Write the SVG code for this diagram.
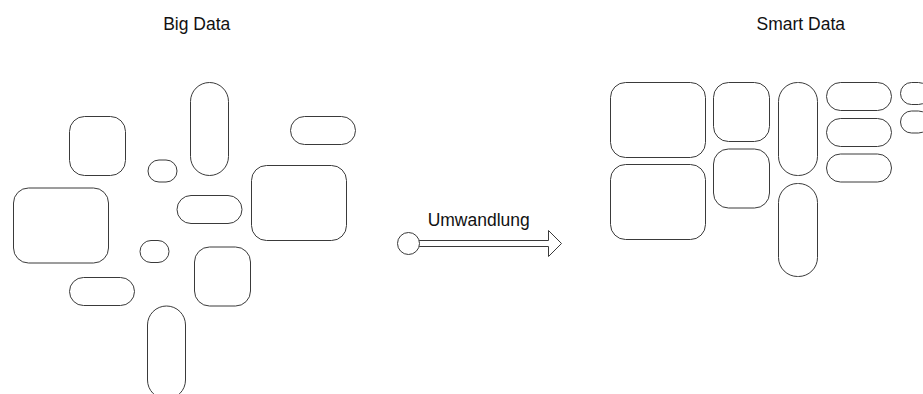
<svg xmlns="http://www.w3.org/2000/svg" width="923" height="394" viewBox="0 0 923 394">
  <style>
    .shape { fill: #ffffff; stroke: #3a3a3a; stroke-width: 1; }
    .label { font-family: "Liberation Sans", Arial, sans-serif; font-size: 17.5px; fill: #111111; text-anchor: middle; }
  </style>
  <rect width="923" height="394" fill="#ffffff"/>

  <!-- headings -->
  <g id="title-big-data"><text class="label" x="196.7" y="30">Big Data</text></g>
  <g id="title-smart-data"><text class="label" x="800.8" y="30">Smart Data</text></g>

  <!-- unordered blocks -->
  <g id="big-1"><rect class="shape" x="69.5" y="116.5" width="56" height="59" rx="15"/></g>
  <g id="big-2"><rect class="shape" x="190.5" y="82.5" width="38" height="93" rx="19"/></g>
  <g id="big-3"><rect class="shape" x="290.5" y="116.5" width="65" height="28" rx="14"/></g>
  <g id="big-4"><rect class="shape" x="148" y="160" width="29" height="22" rx="11"/></g>
  <g id="big-5"><rect class="shape" x="13.5" y="188" width="95" height="75" rx="15"/></g>
  <g id="big-6"><rect class="shape" x="177" y="195.5" width="65" height="28" rx="14"/></g>
  <g id="big-7"><rect class="shape" x="251.5" y="165.5" width="95" height="75" rx="15"/></g>
  <g id="big-8"><rect class="shape" x="140" y="240.5" width="29" height="22" rx="11"/></g>
  <g id="big-9"><rect class="shape" x="194.5" y="247" width="56" height="59" rx="15"/></g>
  <g id="big-10"><rect class="shape" x="69.5" y="277.5" width="65" height="28" rx="14"/></g>
  <g id="big-11"><rect class="shape" x="147.5" y="306" width="38" height="93" rx="19"/></g>

  <!-- ordered blocks -->
  <g id="smart-1"><rect class="shape" x="610.5" y="82.5" width="95" height="75" rx="15"/></g>
  <g id="smart-2"><rect class="shape" x="610.5" y="164.5" width="95" height="75" rx="15"/></g>
  <g id="smart-3"><rect class="shape" x="713.5" y="82.5" width="56" height="59" rx="15"/></g>
  <g id="smart-4"><rect class="shape" x="713.5" y="149" width="56" height="59" rx="15"/></g>
  <g id="smart-5"><rect class="shape" x="778.5" y="82.5" width="39" height="93" rx="19"/></g>
  <g id="smart-6"><rect class="shape" x="778.5" y="183.5" width="39" height="93" rx="19"/></g>
  <g id="smart-7"><rect class="shape" x="826.5" y="82.5" width="65" height="28" rx="14"/></g>
  <g id="smart-8"><rect class="shape" x="826.5" y="118.5" width="65" height="28" rx="14"/></g>
  <g id="smart-9"><rect class="shape" x="826.5" y="154" width="65" height="28" rx="14"/></g>
  <g id="smart-10"><rect class="shape" x="900.5" y="82.5" width="29" height="22" rx="11"/></g>
  <g id="smart-11"><rect class="shape" x="900.5" y="111" width="29" height="22" rx="11"/></g>

  <!-- transformation arrow -->
  <g id="connectors">
    <path class="shape" d="M419.1,240.5 L548.5,240.5 L548.5,230.5 L561.5,243.5 L548.5,256.5 L548.5,246.5 L419.1,246.5"/>
    <circle class="shape" cx="408.5" cy="243.5" r="11"/>
    <text class="label" x="478.7" y="225.7">Umwandlung</text>
  </g>
</svg>
